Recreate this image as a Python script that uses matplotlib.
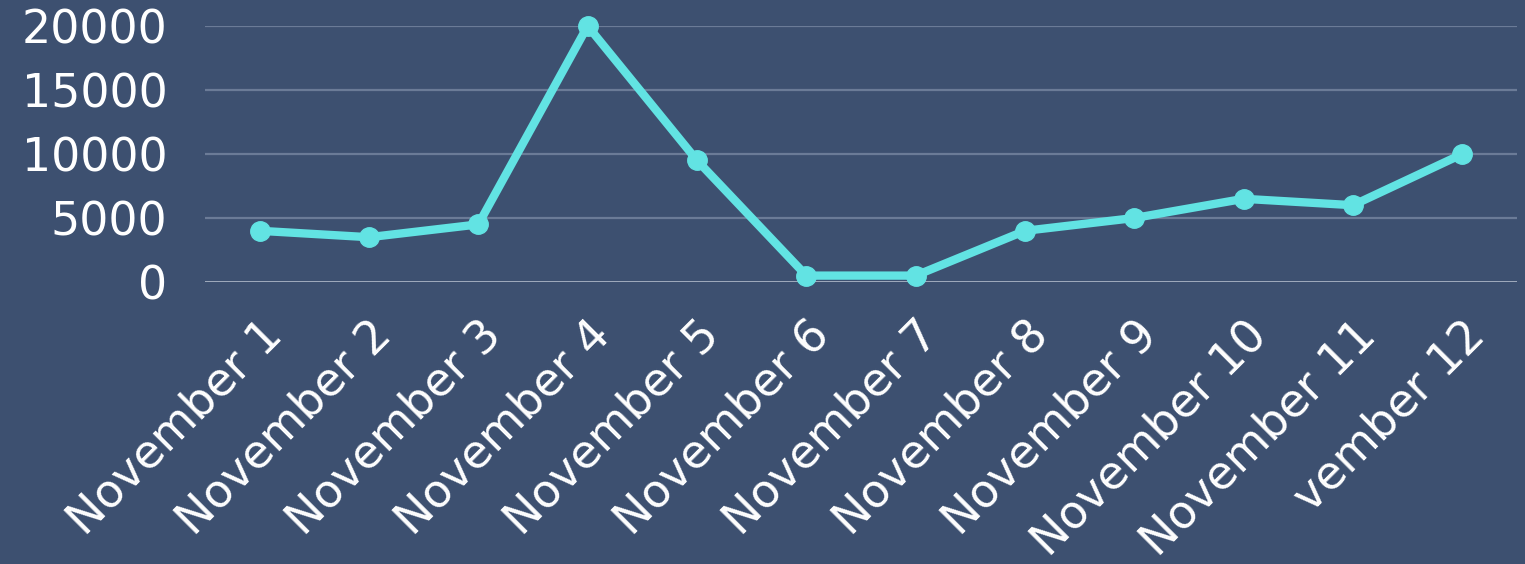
import matplotlib
matplotlib.use('Agg')
import matplotlib.pyplot as plt

# data
days = ['November 1', 'November 2', 'November 3', 'November 4', 'November 5', 'November 6',
        'November 7', 'November 8', 'November 9', 'November 10', 'November 11', 'vember 12']
values = [4000, 3500, 4500, 20000, 9500, 500, 500, 4000, 5000, 6500, 6000, 10000]
yticks = [0, 5000, 10000, 15000, 20000]

bg = '#3d5070'
line_color = '#62e3e3'

plt.rcParams['font.family'] = ['DejaVu Sans']

fig = plt.figure(figsize=(15.25, 5.64), dpi=100, facecolor=bg)
ax = fig.add_axes([0.1344, 0.5, 0.8604, 0.4539])
ax.set_facecolor(bg)

x = range(len(days))
ax.plot(x, values, color=line_color, linewidth=6, marker='o', markersize=14,
        solid_capstyle='round', clip_on=False, zorder=3)

ax.set_xlim(-0.5, len(days) - 0.5)
ax.set_ylim(0, 20000)
ax.set_yticks(yticks)
ax.set_yticklabels([str(v) for v in yticks])
ax.set_xticks(list(x))
ax.set_xticklabels(days, rotation=45, ha='right', rotation_mode='anchor')

# grid lines, the zero line a bit brighter
for v in yticks:
    ax.axhline(v, color='#a9b3c4' if v == 0 else '#6b7b97', linewidth=2 if v == 0 else 1.6, zorder=1)

ax.tick_params(axis='both', length=0, labelcolor='white', labelsize=33)
ax.tick_params(axis='y', pad=27)
ax.tick_params(axis='x', pad=22)
for s in ax.spines.values():
    s.set_visible(False)

plt.savefig('out.png', dpi=100, facecolor=bg)
